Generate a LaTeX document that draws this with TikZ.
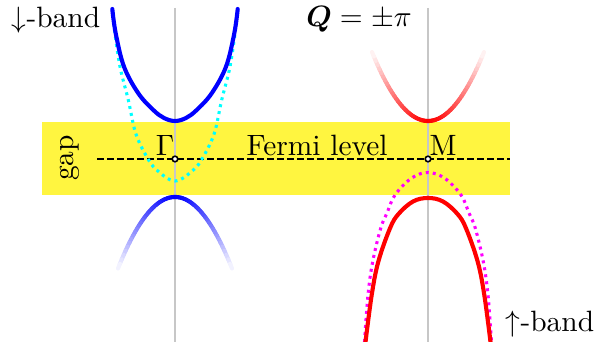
\documentclass[tikz,border=0pt]{standalone}
\usepackage{bm}
\definecolor{cy}{rgb}{0,1,1}
\definecolor{mg}{rgb}{1,0,1}
\begin{document}
\begin{tikzpicture}[x=0.34pt,y=-0.34pt,
  gl/.style={draw=black!22,line width=1.0pt},
  band/.style={line width=1.4pt,line cap=round},
  dotband/.style={line width=1.05pt,dash pattern=on 1.0pt off 1.4pt},
  fermi/.style={line width=0.72pt,dash pattern=on 2.35pt off 1.05pt},
  kpt/.style={circle,draw=black,fill=white,line width=0.55pt,inner sep=0pt,minimum size=1.9pt},
  lbl/.style={inner sep=0pt}]
\useasboundingbox (0,0) rectangle (605,342);
\begin{scope}
\clip (0,0) rectangle (605,342);
% gap
\fill[yellow!75] (42,122) rectangle (510,195);
% gray axes
\draw[gl] (175,8) -- (175,342);
\draw[gl] (428,8) -- (428,342);
% Fermi level
\coordinate (fl) at (97,159);
\coordinate (fr) at (510,159);
\draw[fermi] (fl) -- (fr);
% left (down band)
\draw[cy,dotband] plot[smooth,tension=0.6] coordinates {(114.5,30) (120,66.7) (128.3,100) (135.7,133.3) (146.7,156.7) (156.7,170) (175,181) (193.3,170) (203.3,156.7) (214.3,133.3) (221.7,100) (230,66.7) (235.5,30)};
\draw[blue,band] plot[smooth,tension=0.6] coordinates {(112.3,9) (115.7,33.3) (124,66.7) (138.3,93.3) (153.3,110) (164,118) (175,121) (186,118) (196.7,110) (211.7,93.3) (226,66.7) (234.3,33.3) (237.7,9)};
\foreach \s in {-1,1}{
  \foreach \i in {0,...,29}{
    \pgfmathsetmacro\a{\s*57*\i/30}
    \pgfmathsetmacro\b{\s*57*(\i+1)/30}
    \pgfmathtruncatemacro\p{100*(1-(\i/30)^1.6)}
    \draw[band,draw=blue!\p!white] plot[domain=\a:\b,samples=4] ({175+\x},{197+0.022*\x*\x});
  }
}
% right (up band)
\foreach \s in {-1,1}{
  \foreach \i in {0,...,29}{
    \pgfmathsetmacro\a{\s*56*\i/30}
    \pgfmathsetmacro\b{\s*56*(\i+1)/30}
    \pgfmathtruncatemacro\p{100*(1-(\i/30)^1.6)}
    \draw[band,draw=red!\p!white] plot[domain=\a:\b,samples=4] ({428+\x},{121-0.022*\x*\x});
  }
}
\draw[mg,dotband] plot[smooth,tension=0.6] coordinates {(364.5,342) (368,295) (372.7,261.7) (380.7,228.3) (387,213) (395,195) (411.3,178.3) (428,172.5) (444.7,178.3) (461,195) (469,213) (475.3,228.3) (483.3,261.7) (488,295) (491.5,342)};
\draw[red,band] plot[smooth,tension=0.6] coordinates {(365.5,342) (371.7,295) (378.3,261.7) (390,228.3) (398.5,214) (413,201.5) (428,198) (443,201.5) (457.5,214) (466,228.3) (477.7,261.7) (484.3,295) (490.5,342)};
\end{scope}
% k points
\node[kpt] (G) at (175,159) {};
\node[kpt] (M) at (428,159) {};
% labels
\node[lbl] (Gl) at (165,145) {$\Gamma$};
\node[lbl] (Ml) at (443,145) {M};
\node[lbl] (fermitext) at (317,145) {Fermi level};
\node[lbl,rotate=90] (gap) at (70,158) {gap};
\node[lbl] (dn) at (56,20) {$\downarrow$-band};
\node[lbl] (Q) at (359,19) {$\bm{Q}=\pm\pi$};
\node[lbl] (up) at (550,324) {$\uparrow$-band};
\end{tikzpicture}
\end{document}
